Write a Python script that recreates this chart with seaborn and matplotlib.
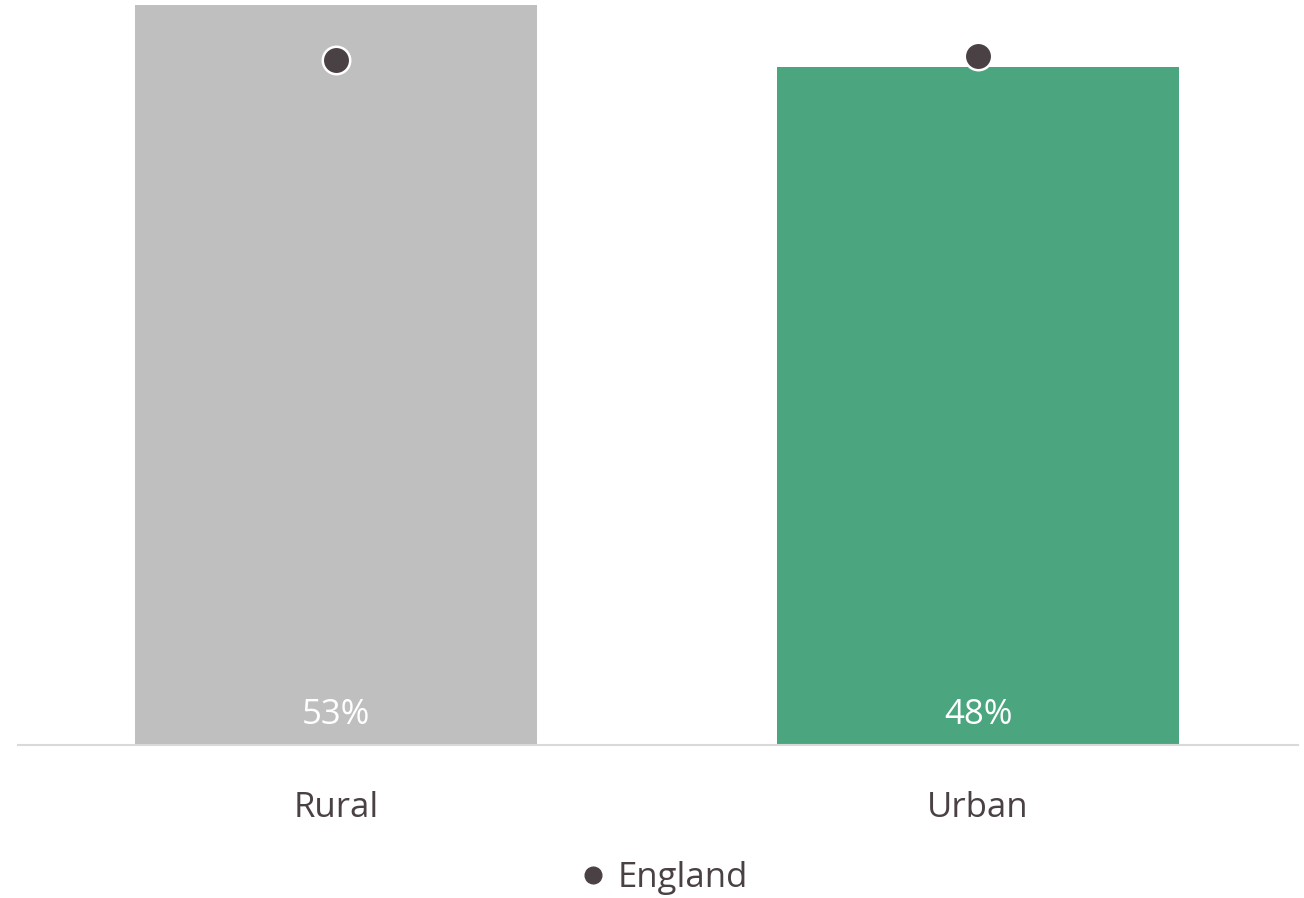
import matplotlib
matplotlib.use("Agg")
import matplotlib.pyplot as plt
from matplotlib.lines import Line2D
import seaborn as sns
import pandas as pd

# Share of residents, by area type, with the England figure for comparison
areas = ["Rural", "Urban"]
area_values = [52.6, 48.2]
england_values = [48.7, 49.0]
value_labels = ["53%", "48%"]

bar_colors = ["#BFBFBF", "#4BA67F"]
dot_color = "#4A4145"
text_color = "#4A4145"

sns.set_theme(style="white")
plt.rcParams["font.family"] = ["Open Sans", "DejaVu Sans"]

df = pd.DataFrame({"area": areas, "value": area_values, "england": england_values})

fig = plt.figure(figsize=(13.04, 8.98), dpi=100)
ax = fig.add_axes([18 / 1304, 153 / 898, 1280 / 1304, 745 / 898])

sns.barplot(data=df, x="area", y="value", hue="area", palette=bar_colors,
            width=0.626, legend=False, ax=ax, saturation=1, linewidth=0)

sns.scatterplot(data=df, x="area", y="england", ax=ax, s=390, color=dot_color,
                edgecolor="white", linewidth=1.8, zorder=5, legend=False)

for i, lab in enumerate(value_labels):
    ax.text(i, 1.5, lab, ha="center", va="baseline", color="white", fontsize=25)

ax.set_xlim(-0.495, 1.498)
ax.set_ylim(0, 52.96)
ax.set_xlabel("")
ax.set_ylabel("")
ax.set_yticks([])
ax.tick_params(axis="x", length=0, pad=33, labelsize=25, labelcolor=text_color)
for side in ["top", "left", "right"]:
    ax.spines[side].set_visible(False)
ax.spines["bottom"].set_color("#D9D9D9")
ax.spines["bottom"].set_linewidth(1.5)

handle = Line2D([], [], marker="o", linestyle="none", color=dot_color,
                markersize=12, label="England")
fig.legend(handles=[handle], loc="center", bbox_to_anchor=(662 / 1304, 1 - 878 / 898),
           frameon=False, fontsize=25, labelcolor=text_color, handletextpad=0.2,
           handlelength=1.0)

fig.savefig("out.png", dpi=100, facecolor="white")
